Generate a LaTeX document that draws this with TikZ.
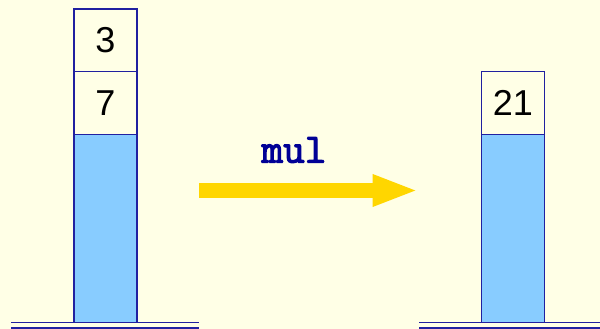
\documentclass[tikz,border=0pt]{standalone}
\usepackage{fontspec}
\setmainfont{Liberation Sans}
\newfontfamily\codefont{Latin Modern Mono}[FakeBold=2.5]
\usetikzlibrary{arrows.meta}
\definecolor{bgyellow}{RGB}{255,255,230}
\definecolor{stackblue}{RGB}{136,204,255}
\definecolor{edgeblue}{RGB}{32,32,160}
\definecolor{codeblue}{RGB}{0,0,150}
\definecolor{arrowgold}{RGB}{255,214,0}
\tikzset{
  cell/.style={draw=edgeblue, line width=1.2pt, fill=bgyellow, minimum width=63pt, minimum height=62.5pt, inner sep=0pt, font=\fontsize{36}{36}\selectfont},
  fillcell/.style={draw=edgeblue, line width=1.2pt, fill=stackblue, minimum width=63pt, inner sep=0pt},
  baseline/.style={draw=edgeblue, line width=1.2pt},
  bigarrow/.style={draw=arrowgold, line width=14.4pt, -{Triangle[length=46pt,width=29pt]}}
}
\begin{document}
\begin{tikzpicture}[x=1pt,y=1pt]
\fill[bgyellow] (0,0) rectangle (600,329);
\useasboundingbox (0,0) rectangle (600,329);
% left stack
\node[cell] (l3) at (105.5,288.75) {3};
\node[cell] (l7) at (105.5,226) {7};
\node[fillcell, minimum height=188pt] (lfill) at (105.5,100.5) {};
% right stack
\node[cell] (r21) at (513,226) {21};
\node[fillcell, minimum height=188pt] (rfill) at (513,100.5) {};
% base lines
\coordinate (lb1) at (11,6.5);
\coordinate (lb2) at (199,6.5);
\coordinate (lb3) at (11,1);
\coordinate (lb4) at (199,1);
\coordinate (rb1) at (419,6.5);
\coordinate (rb2) at (600,6.5);
\coordinate (rb3) at (419,1);
\coordinate (rb4) at (600,1);
\draw[baseline] (lb1) -- (lb2);
\draw[baseline] (lb3) -- (lb4);
\draw[baseline] (rb1) -- (rb2);
\draw[baseline] (rb3) -- (rb4);
% arrow
\coordinate (as) at (199,138.5);
\coordinate (ae) at (418.5,138.5);
\draw[bigarrow] (as) -- (ae);
\node[font=\codefont\fontsize{42}{42}\selectfont, text=codeblue] (op) at (294,179) {mul};
\end{tikzpicture}
\end{document}
